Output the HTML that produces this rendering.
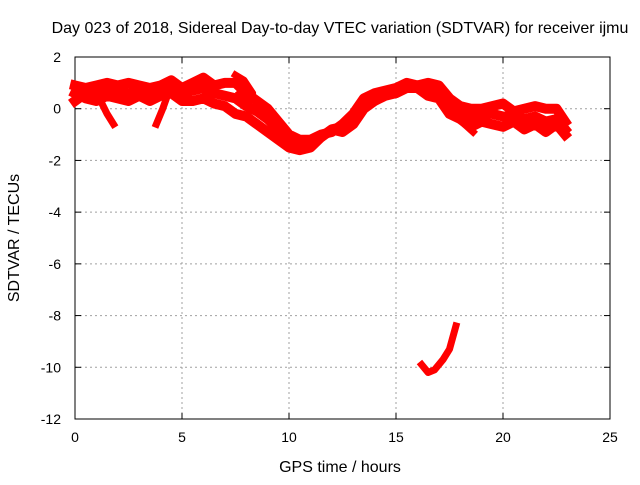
<!DOCTYPE html>
<html><head><meta charset="utf-8"><style>
body{margin:0;background:#fff}
svg text{font-family:"Liberation Sans",sans-serif;font-size:14px;fill:#000}
svg text.big{font-size:16px}
</style></head><body>
<svg id="chart" width="640" height="480">
<text class="big" x="340" y="33" text-anchor="middle">Day 023 of 2018, Sidereal Day-to-day VTEC variation (SDTVAR) for receiver ijmu</text>
<text class="big" x="340" y="472" text-anchor="middle">GPS time / hours</text>
<text class="big" transform="translate(19,238) rotate(-90)" text-anchor="middle">SDTVAR / TECUs</text>
<g id="grid"></g><g id="axes"></g><g id="series"></g>
</svg>
<script>
const xTicks=[0,5,10,15,20,25];
const yTicks=[2,0,-2,-4,-6,-8,-10,-12];
const upperH=[0,0.5,1,1.5,2,2.5,3,3.5,4,4.5,5,5.5,6,6.5,7,7.5,8,8.5,9,9.5,10,10.5,11,11.5,12,12.5,13,13.5,14,14.5,15,15.5,16,16.5,17,17.5,18,18.5,19,19.5,20,20.5,21,21.5,22,22.5,22.9];
const upperV=[0.9,0.8,0.9,1.0,0.9,1.0,0.9,0.8,0.9,1.1,0.8,1.0,1.2,0.9,1.0,1.0,0.6,0.3,0.0,-0.5,-1.0,-1.2,-1.2,-1.0,-0.9,-0.6,-0.2,0.4,0.6,0.7,0.8,1.0,0.9,1.0,0.9,0.4,0.1,0.0,0.0,0.1,0.2,-0.1,0.0,0.1,0.0,0.0,-0.5];
const lowerV=[0.6,0.4,0.3,0.5,0.4,0.3,0.5,0.3,0.5,0.6,0.3,0.3,0.4,0.2,0.1,-0.2,-0.3,-0.6,-0.9,-1.2,-1.5,-1.6,-1.5,-1.1,-0.8,-0.9,-0.6,0.0,0.3,0.5,0.6,0.8,0.8,0.5,0.4,-0.2,-0.4,-0.7,-0.5,-0.6,-0.7,-0.5,-0.8,-0.6,-0.9,-0.6,-1.0];
const midV=[0.3,0.6,0.6,0.7,0.7,0.6,0.7,0.6,0.7,0.8,0.6,0.7,0.8,0.6,0.5,0.4,0.1,-0.1,-0.4,-0.8,-1.2,-1.4,-1.3,-1.1,-0.8,-0.7,-0.4,0.2,0.5,0.6,0.7,0.9,0.8,0.8,0.7,0.1,-0.2,-0.3,-0.2,-0.2,-0.3,-0.3,-0.4,-0.3,-0.5,-0.4,-0.8];
const spur1H=[1.2,1.5,1.8],spur1V=[0.3,-0.2,-0.6];
const spur2H=[3.8,4.1,4.4],spur2V=[-0.6,0.0,0.7];
const spur3H=[7.5,7.9,8.3,8.1,7.7],spur3V=[1.3,1.1,0.6,0.2,0.6];
const spur4H=[17.8,18.2,18.6],spur4V=[-0.3,-0.6,-0.9];
const islandH=[16.2,16.5,16.8,17.2,17.5,17.8];
const islandV=[-9.9,-10.2,-10.1,-9.7,-9.3,-8.4];
const NS='http://www.w3.org/2000/svg';
const x=h=>75+h*(535/25), y=v=>57+(2-v)*(362/14);
function mk(t,a,p){const e=document.createElementNS(NS,t);for(const k in a)e.setAttribute(k,a[k]);p.appendChild(e);return e;}
const grid=document.getElementById('grid'),axes=document.getElementById('axes'),ser=document.getElementById('series');
xTicks.forEach(t=>{
 if(t>0&&t<25){const l=mk('line',{x1:x(t),x2:x(t),y1:57,y2:419,stroke:'#a0a0a0','stroke-dasharray':'2,3'},grid);
 }
 const tx=mk('text',{x:x(t),y:442,'text-anchor':'middle'},axes);tx.textContent=t;
 
 mk('line',{x1:x(t),x2:x(t),y1:419,y2:413,stroke:'#000'},axes);mk('line',{x1:x(t),x2:x(t),y1:57,y2:63,stroke:'#000'},axes);
});
yTicks.forEach(t=>{
 if(t<2&&t>-12){const l=mk('line',{x1:75,x2:610,y1:y(t),y2:y(t),stroke:'#a0a0a0','stroke-dasharray':'2,3'},grid);
 }
 const tx=mk('text',{x:61,y:y(t)+5,'text-anchor':'end'},axes);tx.textContent=t;
 
 mk('line',{x1:75,x2:81,y1:y(t),y2:y(t),stroke:'#000'},axes);mk('line',{x1:610,x2:604,y1:y(t),y2:y(t),stroke:'#000'},axes);
});
const fr=mk('rect',{x:75,y:57,width:535,height:362,fill:'none',stroke:'#000'},axes);

function draw(H,V,name,w){
 const p=mk('polyline',{points:H.map((h,i)=>x(h)+','+y(V[i])).join(' '),fill:'none',stroke:'#ff0000','stroke-width':w,'stroke-linejoin':'round','stroke-linecap':'square'},ser);
 
 
}
draw(upperH,upperV,'series-upper-track',10);
draw(upperH,lowerV,'series-lower-track',10);
draw(upperH,midV,'series-middle-track',10);
draw(spur1H,spur1V,'series-spur-1',7);
draw(spur2H,spur2V,'series-spur-2',7);
draw(spur3H,spur3V,'series-spur-3',7);
draw(spur4H,spur4V,'series-spur-4',7);
draw(islandH,islandV,'series-isolated-segment',7);
</script>
</body></html>
